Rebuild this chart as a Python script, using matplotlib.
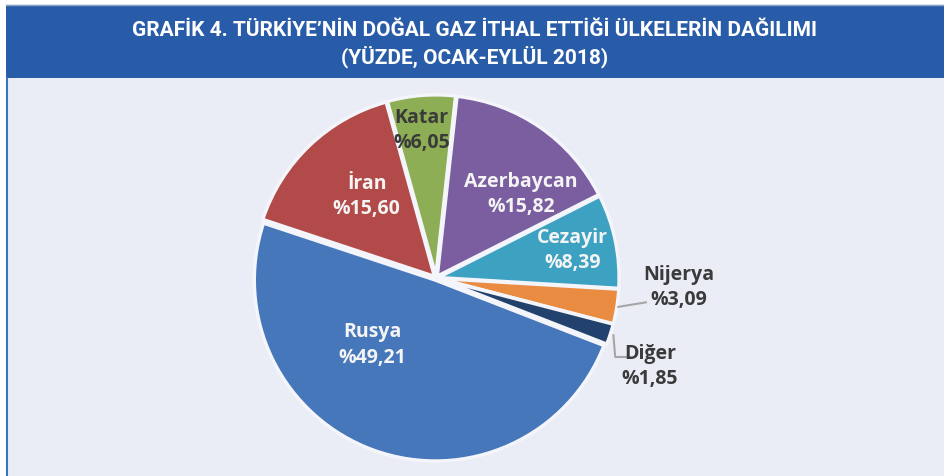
import matplotlib.pyplot as plt
from matplotlib.patches import Rectangle
import numpy as np

# Data
countries = ['Katar', 'Azerbaycan', 'Cezayir', 'Nijerya', 'Diğer', 'Rusya', 'İran']
shares = [6.05, 15.82, 8.39, 3.09, 1.85, 49.21, 15.60]
share_labels = ['%6,05', '%15,82', '%8,39', '%3,09', '%1,85', '%49,21', '%15,60']
colors = ['#8DAE54', '#7A5EA0', '#3DA1C2', '#E98C42', '#22426D', '#4677BA', '#B14A48']

W, H = 945, 476
fig = plt.figure(figsize=(W / 100, H / 100), dpi=100)
fig.patch.set_facecolor('white')

# background panel, border and title bar (figure coords)
bg = fig.add_axes([0, 0, 1, 1])
bg.set_xlim(0, W)
bg.set_ylim(H, 0)
bg.axis('off')
bg.add_patch(Rectangle((6, 4), W - 6, H - 4, facecolor='#EAEDF6', edgecolor='none'))
bg.add_patch(Rectangle((6, 5), W - 6, 73, facecolor='#295CA8', edgecolor='none'))
bg.plot([6, W], [4.5, 4.5], color='#8FA3C4', lw=1)
bg.plot([6.5, 6.5], [78, H], color='#3C74C4', lw=1.5)
title_font = ['Roboto', 'DejaVu Sans']
bg.text(475, 30, 'GRAFİK 4. TÜRKİYE’NİN DOĞAL GAZ İTHAL ETTİĞİ ÜLKELERİN DAĞILIMI',
        ha='center', va='center', color='white', fontsize=15, fontweight='bold',
        family=title_font)
bg.text(475, 57, '(YÜZDE, OCAK-EYLÜL 2018)',
        ha='center', va='center', color='white', fontsize=15, fontweight='bold',
        family=title_font)

# pie axes: centre at (436, 278) px, radius ~181 px
cx, cy, r = 436, 278, 181
half = r * 1.02
ax = fig.add_axes([(cx - half) / W, (H - cy - half) / H, 2 * half / W, 2 * half / H])

start = 105.5
wedges, _ = ax.pie(shares, colors=colors, startangle=start, counterclock=False,
                   explode=[0.012] * len(shares),
                   wedgeprops=dict(edgecolor='#F4F5FA', linewidth=2.5))
ax.set_xlim(-1.02, 1.02)
ax.set_ylim(-1.02, 1.02)
ax.axis('off')

# label placement: (angle deg, radius) per slice
label_pos = [(95.5, 0.82), (44.5, 0.66), (11.5, 0.77), (-2.3, 1.34), (-22.5, 1.28),
             (-133.5, 0.51), (130.5, 0.59)]
dark = '#3A3A3A'
text_colors = [dark, '#F4F4F4', '#F4F4F4', dark, dark, '#F4F4F4', '#F4F4F4']
for name, lab, (ang, rad), tc in zip(countries, share_labels, label_pos, text_colors):
    a = np.deg2rad(ang)
    ax.text(rad * np.cos(a), rad * np.sin(a), name + '\n' + lab, ha='center', va='center',
            color=tc, fontsize=14, fontweight='bold', family='Open Sans', linespacing=1.35)

# leader lines for small slices
ang_n = np.deg2rad(start - 360 * sum(shares[:3]) / 100 - 360 * shares[3] / 200)
x0, y0 = 1.02 * np.cos(ang_n), 1.02 * np.sin(ang_n)
ax.plot([x0, x0 + 0.06, 1.16], [y0, y0 + 0.01, y0 + 0.025], color='#A6A6A6', lw=1.5,
        clip_on=False)

ang_d = np.deg2rad(start - 360 * sum(shares[:4]) / 100 - 360 * shares[4] / 200)
x1, y1 = 1.03 * np.cos(ang_d), 1.03 * np.sin(ang_d)
ax.plot([x1, x1 + 0.01, x1 + 0.09], [y1, y1 - 0.12, y1 - 0.12], color='#A6A6A6', lw=1.5,
        clip_on=False)

plt.savefig('out.png', dpi=100, facecolor=fig.get_facecolor())
